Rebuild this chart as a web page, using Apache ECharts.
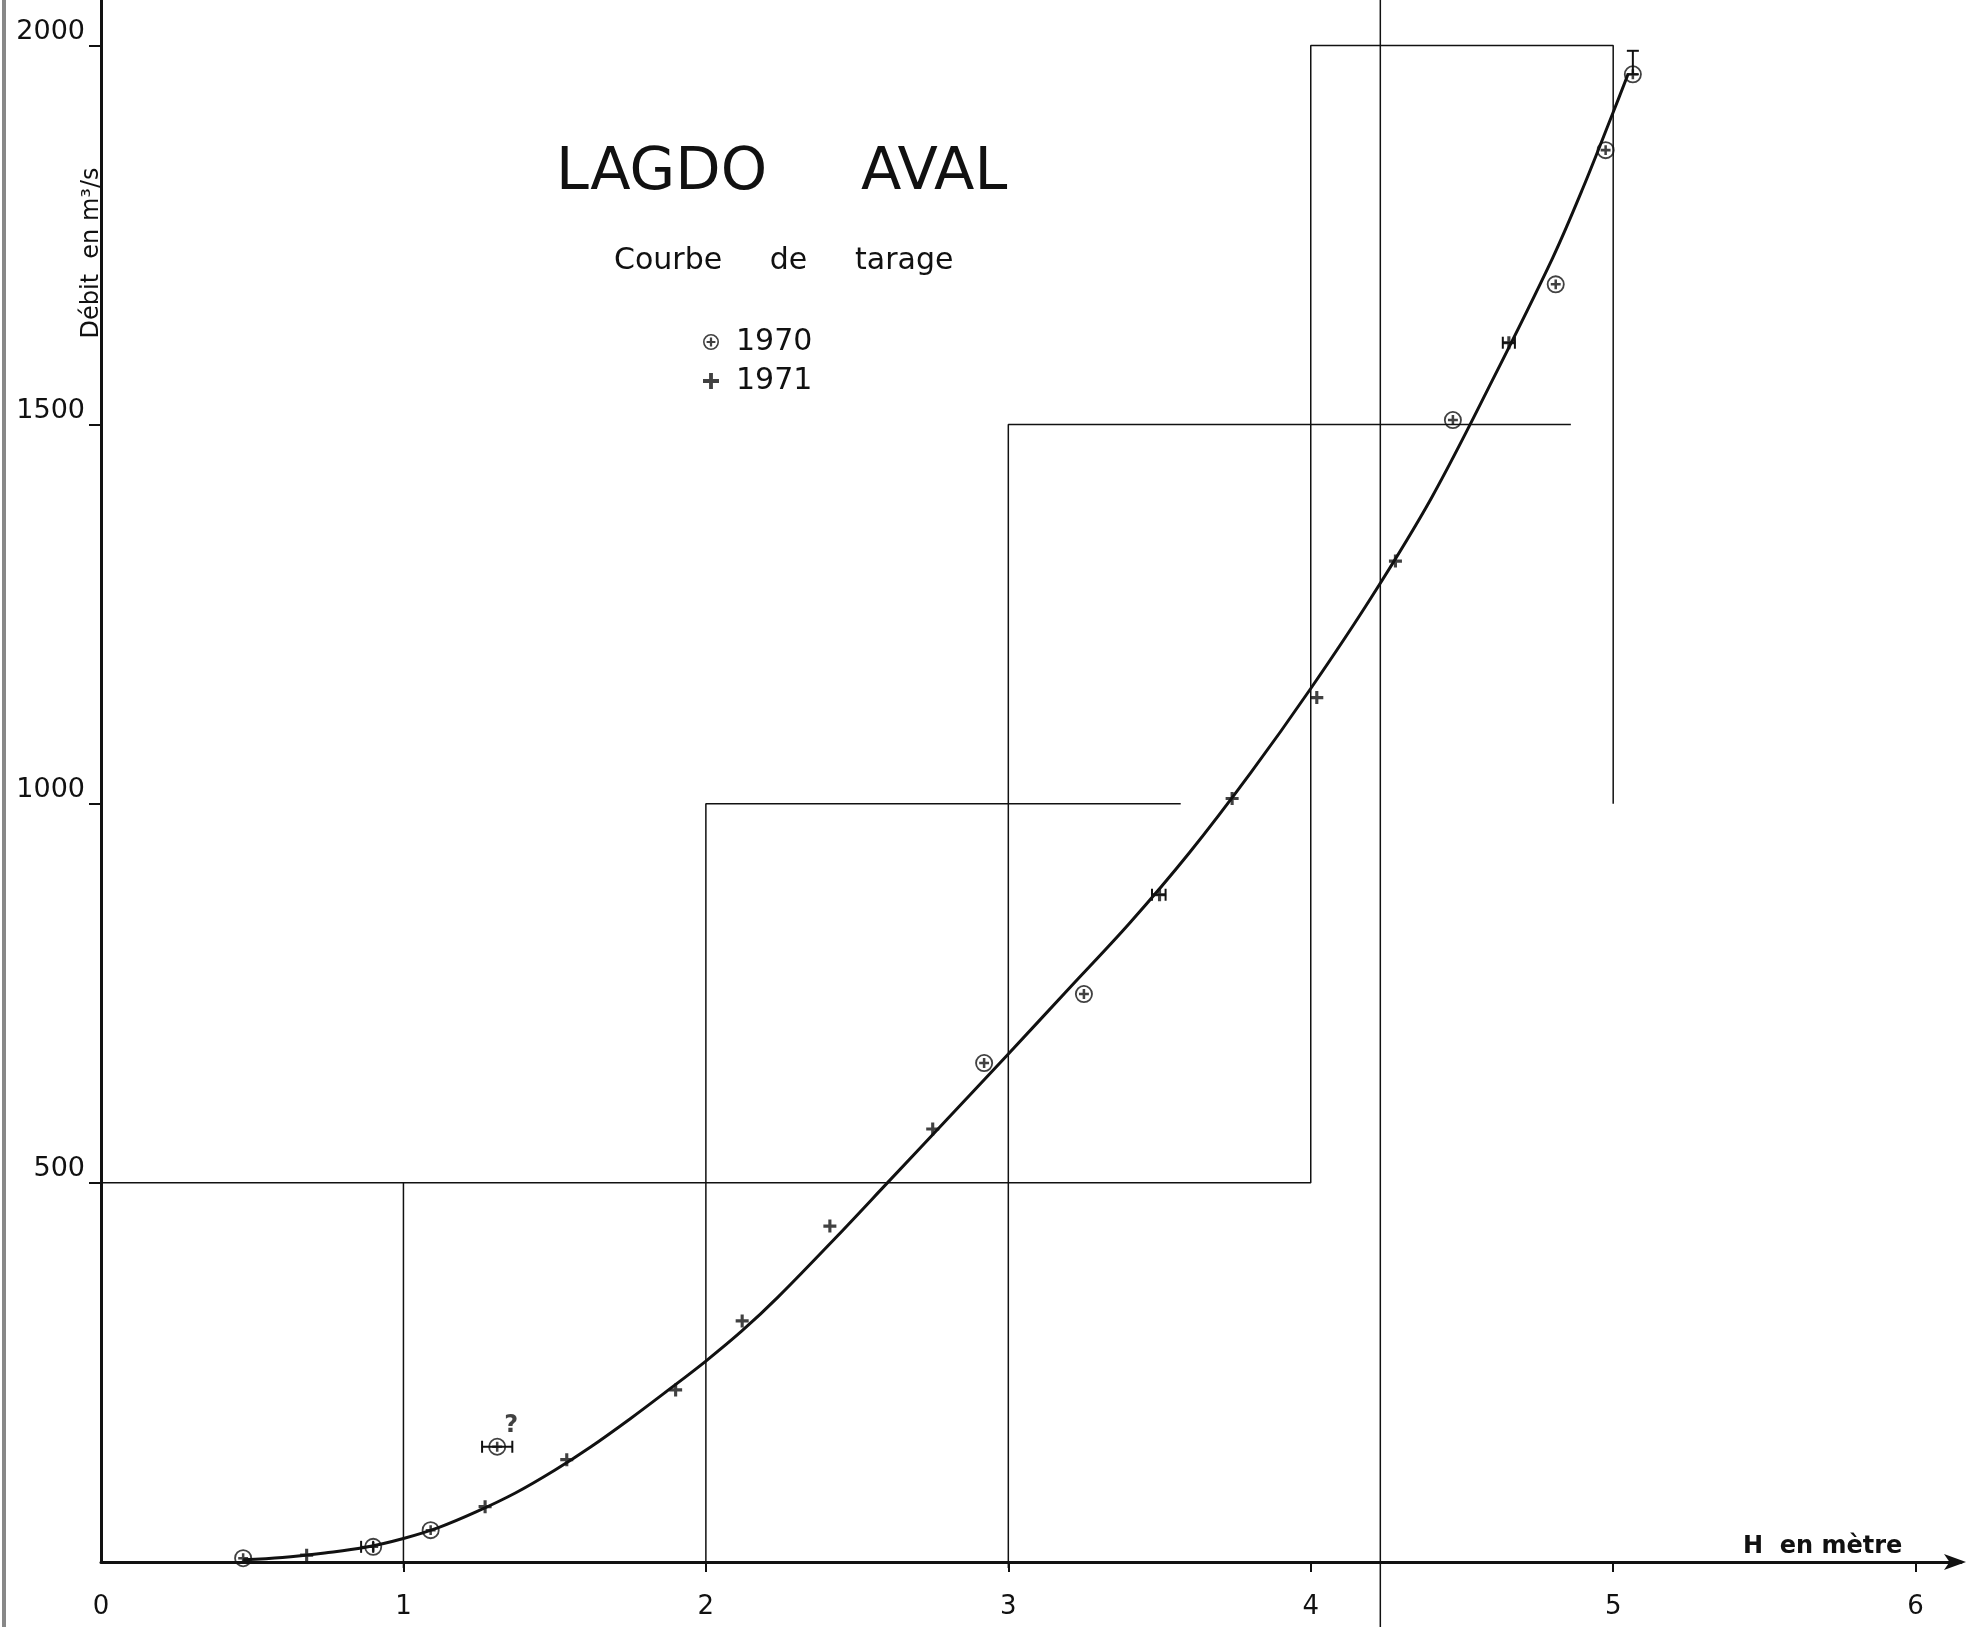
<!DOCTYPE html>
<html>
<head>
<meta charset="utf-8">
<title>LAGDO AVAL - Courbe de tarage</title>
<script src="https://cdn.jsdelivr.net/npm/echarts@6/dist/echarts.min.js"></script>
<style>
    html, body { margin: 0; padding: 0; background: #fff; }
    #chart { width: 1967px; height: 1627px; }
</style>
</head>
<body>
<div id="chart"></div>
<script>
// jaugeages : [H (m), Q (m3/s)]
const points1970 = [
    [0.47, 5], [0.90, 20], [1.09, 42], [1.31, 152], [2.92, 658],
    [3.25, 749], [4.47, 1506], [4.81, 1685], [4.975, 1862], [5.065, 1962]
];
const points1971 = [
    [0.68, 9], [1.27, 73], [1.54, 135], [1.90, 227], [2.12, 318], [2.41, 443],
    [2.75, 571], [3.50, 880], [3.74, 1007], [4.02, 1140], [4.28, 1320], [4.655, 1608]
];
const doubtfulIndex = 3; // point 1970 marqué "?"

// courbe de tarage tracée à la main
const curve = [
    [0.47, 3], [0.6, 6], [0.74, 12], [0.87, 19], [1.0, 31], [1.12, 46], [1.24, 66],
    [1.37, 91], [1.5, 121], [1.62, 152], [1.75, 189], [1.87, 225], [2.0, 265],
    [2.12, 305], [2.24, 350], [2.43, 428], [2.6, 500], [2.8, 585], [3.0, 670],
    [3.2, 756], [3.4, 842], [3.6, 936], [3.8, 1040], [4.0, 1152], [4.2, 1272],
    [4.4, 1404], [4.6, 1558], [4.8, 1720], [4.9, 1812], [5.0, 1912], [5.05, 1963]
];

// barres d'incertitude : [x1, y1, x2, y2]
const errorBars = [
    [0.86, 20, 0.90, 20],
    [1.26, 152, 1.36, 152],
    [3.475, 880, 3.52, 880],
    [4.635, 1608, 4.675, 1608],
    [5.065, 1962, 5.065, 1993]
];

// cadres de changement d'échelle
const frameLines = [
    [[0, 500], [4, 500], [4, 2000], [5, 2000], [5, 1000]],
    [[1, -8], [1, 500]],
    [[2, -8], [2, 1000], [3.57, 1000]],
    [[3, -8], [3, 1500], [4.86, 1500]],
    [[4.23, -95], [4.23, 2060]]
];

const xLabels = [0, 1, 2, 3, 4, 5, 6];
const xTicks = [1, 2, 3, 4, 5, 6];
const yLabels = [500, 1000, 1500, 2000];

const FONT = 'DejaVu Sans';
const INK = '#111';

const CIRCLED_PLUS = 'path://M10 0A10 10 0 1 1 10 20A10 10 0 1 1 10 0Z' +
    'M10 2A8 8 0 1 0 10 18A8 8 0 1 0 10 2Z' +
    'M8.6 4.5L11.4 4.5L11.4 15.5L8.6 15.5Z' +
    'M4.5 8.6L15.5 8.6L15.5 11.4L4.5 11.4Z';
const PLUS = 'path://M3.8 0L6.2 0L6.2 10L3.8 10ZM0 3.8L10 3.8L10 6.2L0 6.2Z';

function renderErrorBar(params, api) {
    const a = api.coord([api.value(0), api.value(1)]);
    const b = api.coord([api.value(2), api.value(3)]);
    const vertical = Math.abs(a[0] - b[0]) < 1;
    const c = 6;
    const cap = p => vertical
        ? { x1: p[0] - c, y1: p[1], x2: p[0] + c, y2: p[1] }
        : { x1: p[0], y1: p[1] - c, x2: p[0], y2: p[1] + c };
    const style = { stroke: INK, lineWidth: 2 };
    return {
        type: 'group',
        children: [
            { type: 'line', shape: { x1: a[0], y1: a[1], x2: b[0], y2: b[1] }, style: style },
            { type: 'line', shape: cap(a), style: style },
            { type: 'line', shape: cap(b), style: style }
        ]
    };
}

const chart = echarts.init(document.getElementById('chart'), null, { renderer: 'canvas' });

const frameSeries = frameLines.map(seg => ({
    type: 'line',
    data: seg,
    symbol: 'none',
    clip: false,
    silent: true,
    z: 1,
    lineStyle: { color: INK, width: 1.5 }
}));

const chartOption = {
    backgroundColor: '#fff',
    animation: false,
    title: [
        {
            text: 'LAGDO     AVAL',
            left: 556,
            top: 144,
            padding: 0,
            textStyle: { fontFamily: FONT, fontSize: 59, fontWeight: 'normal', color: INK }
        },
        {
            text: 'Courbe     de     tarage',
            left: 614,
            top: 246,
            padding: 0,
            textStyle: { fontFamily: FONT, fontSize: 30, fontWeight: 'normal', color: INK }
        }
    ],
    legend: {
        orient: 'vertical',
        left: 703,
        top: 327,
        itemWidth: 16,
        itemHeight: 16,
        itemGap: 9,
        padding: 0,
        textStyle: { fontFamily: FONT, fontSize: 30, color: INK, padding: [0, 0, 0, 12] },
        data: [
            { name: '1970', icon: CIRCLED_PLUS },
            { name: '1971', icon: PLUS }
        ]
    },
    grid: {
        left: 101,
        top: 0,
        width: 1860,
        height: 1562
    },
    xAxis: {
        type: 'value',
        min: 0,
        max: 6.15,
        interval: 1,
        name: 'H  en mètre',
        nameLocation: 'end',
        nameGap: -218,
        nameTextStyle: {
            fontFamily: FONT, fontSize: 24, fontWeight: 'bold', color: INK,
            align: 'left', verticalAlign: 'bottom', padding: [0, 0, 3, 0]
        },
        axisLine: {
            show: true,
            symbol: ['none', 'arrow'],
            symbolSize: [12, 22],
            symbolOffset: [0, 5],
            lineStyle: { color: INK, width: 3 }
        },
        axisTick: { show: true, customValues: xTicks, length: 10, lineStyle: { color: INK, width: 2 } },
        axisLabel: {
            customValues: xLabels,
            margin: 32,
            fontFamily: FONT,
            fontSize: 26,
            color: INK
        },
        splitLine: { show: false }
    },
    yAxis: {
        type: 'value',
        min: 0,
        max: 2060,
        interval: 500,
        axisLine: { show: true, lineStyle: { color: INK, width: 3 } },
        axisTick: { show: true, customValues: yLabels, length: 12, lineStyle: { color: INK, width: 2 } },
        axisLabel: {
            customValues: yLabels,
            formatter: v => String(v),
            margin: 16,
            verticalAlign: 'bottom',
            fontFamily: FONT,
            fontSize: 27,
            color: INK
        },
        splitLine: { show: false }
    },
    graphic: [
        {
            type: 'rect',
            left: 2,
            top: 0,
            silent: true,
            shape: { width: 4, height: 1627 },
            style: { fill: '#888' }
        },
        {
            type: 'text',
            x: 92,
            y: 253,
            rotation: Math.PI / 2,
            silent: true,
            style: {
                text: 'Débit  en m³/s',
                font: '24px "DejaVu Sans"',
                fill: INK,
                align: 'center',
                verticalAlign: 'middle'
            }
        }
    ],
    series: frameSeries.concat([
        {
            name: 'courbe',
            type: 'line',
            data: curve,
            smooth: 0.35,
            symbol: 'none',
            silent: true,
            z: 3,
            lineStyle: { color: INK, width: 3 }
        },
        {
            name: 'incertitude',
            type: 'custom',
            renderItem: renderErrorBar,
            data: errorBars,
            silent: true,
            z: 4
        },
        {
            name: '1970',
            type: 'scatter',
            symbol: CIRCLED_PLUS,
            symbolSize: 18,
            z: 5,
            itemStyle: { color: INK },
            data: points1970.map((p, i) => i === doubtfulIndex
                ? {
                    value: p,
                    label: {
                        show: true,
                        formatter: '?',
                        position: [16, -24],
                        fontFamily: FONT,
                        fontSize: 24,
                        fontWeight: 'bold',
                        color: INK
                    }
                }
                : p)
        },
        {
            name: '1971',
            type: 'scatter',
            symbol: PLUS,
            symbolSize: 13,
            z: 5,
            itemStyle: { color: INK },
            data: points1971
        }
    ])
};

chart.setOption(chartOption);
</script>
</body>
</html>
